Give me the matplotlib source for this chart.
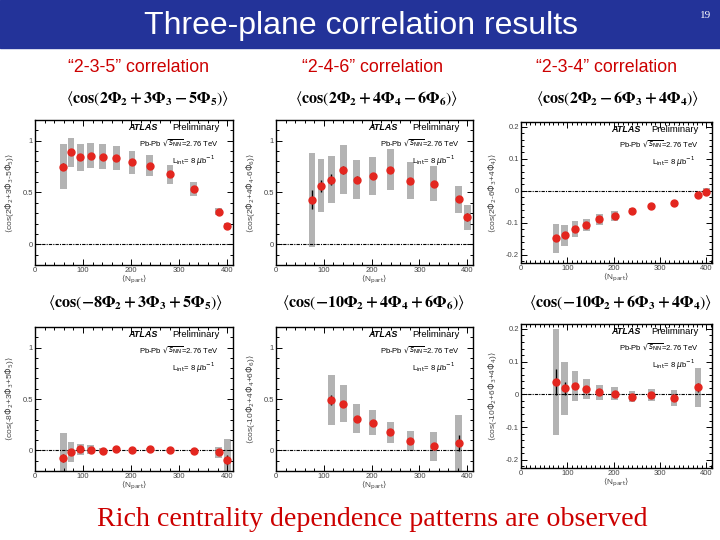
import matplotlib
matplotlib.use("Agg")
import matplotlib.pyplot as plt
from matplotlib.patches import Rectangle
from matplotlib.ticker import MultipleLocator

# ---- data ----
npart_235 = [59, 75, 94, 116, 141, 169, 202, 239, 281, 330, 382, 400]
c235 = [0.75, 0.89, 0.84, 0.855, 0.845, 0.83, 0.79, 0.76, 0.675, 0.535, 0.315, 0.175]
c235_stat = [0.035, 0.02, 0.015, 0.012, 0.01, 0.01, 0.01, 0.01, 0.01, 0.01, 0.01, 0.012]
c235_sys = [0.22, 0.14, 0.13, 0.12, 0.12, 0.115, 0.11, 0.105, 0.095, 0.07, 0.035, 0.03]

npart_246 = [75, 94, 116, 141, 169, 202, 239, 281, 330, 382, 400]
c246 = [0.43, 0.565, 0.625, 0.72, 0.625, 0.66, 0.72, 0.615, 0.585, 0.435, 0.26]
c246_stat = [0.09, 0.06, 0.05, 0.04, 0.03, 0.03, 0.03, 0.02, 0.025, 0.03, 0.04]
c246_sys = [0.455, 0.255, 0.23, 0.235, 0.19, 0.185, 0.2, 0.175, 0.17, 0.13, 0.12]

npart_234 = [75, 94, 116, 141, 169, 202, 239, 281, 330, 382, 400]
c234 = [-0.148, -0.139, -0.118, -0.106, -0.089, -0.079, -0.062, -0.047, -0.037, -0.013, -0.002]
c234_stat = [0.008, 0.006, 0.005, 0.004, 0.004, 0.003, 0.003, 0.003, 0.003, 0.003, 0.004]
c234_sys = [0.045, 0.033, 0.025, 0.018, 0.017, 0.015, 0.009, 0.007, 0.007, 0.008, 0.012]

npart_835 = [59, 75, 94, 116, 141, 169, 202, 239, 281, 330, 382, 400]
c835 = [-0.075, -0.015, 0.01, 0.006, -0.003, 0.013, 0.006, 0.013, 0.0, -0.003, -0.019, -0.09]
c835_stat = [0.04, 0.015, 0.01, 0.01, 0.008, 0.008, 0.008, 0.008, 0.008, 0.008, 0.015, 0.05]
c835_sys = [0.245, 0.095, 0.055, 0.045, 0.025, 0.015, 0.012, 0.012, 0.01, 0.01, 0.05, 0.2]

npart_1046 = [116, 141, 169, 202, 239, 281, 330, 382]
c1046 = [0.49, 0.455, 0.31, 0.27, 0.175, 0.09, 0.04, 0.07]
c1046_stat = [0.05, 0.03, 0.015, 0.015, 0.015, 0.015, 0.02, 0.08]
c1046_sys = [0.24, 0.18, 0.14, 0.12, 0.105, 0.1, 0.14, 0.27]

npart_1064 = [75, 94, 116, 141, 169, 202, 239, 281, 330, 382]
c1064 = [0.038, 0.018, 0.026, 0.016, 0.006, 0.002, -0.007, -0.002, -0.012, 0.021]
c1064_stat = [0.04, 0.02, 0.01, 0.008, 0.006, 0.005, 0.005, 0.005, 0.006, 0.015]
c1064_sys = [0.163, 0.082, 0.046, 0.03, 0.022, 0.02, 0.017, 0.019, 0.025, 0.059]

headers = ["\u201c2-3-5\u201d correlation", "\u201c2-4-6\u201d correlation", "\u201c2-3-4\u201d correlation"]
formulas_top = [
    r"$\left\langle \mathbf{cos}\left(\mathbf{2\Phi_2+3\Phi_3-5\Phi_5}\right)\right\rangle$",
    r"$\left\langle \mathbf{cos}\left(\mathbf{2\Phi_2+4\Phi_4-6\Phi_6}\right)\right\rangle$",
    r"$\left\langle \mathbf{cos}\left(\mathbf{2\Phi_2-6\Phi_3+4\Phi_4}\right)\right\rangle$",
]
formulas_bot = [
    r"$\left\langle \mathbf{cos}\left(\mathbf{-8\Phi_2+3\Phi_3+5\Phi_5}\right)\right\rangle$",
    r"$\left\langle \mathbf{cos}\left(\mathbf{-10\Phi_2+4\Phi_4+6\Phi_6}\right)\right\rangle$",
    r"$\left\langle \mathbf{cos}\left(\mathbf{-10\Phi_2+6\Phi_3+4\Phi_4}\right)\right\rangle$",
]
ylabels = [
    r"$\langle$cos(2$\Phi_2$+3$\Phi_3$-5$\Phi_5$)$\rangle$",
    r"$\langle$cos(2$\Phi_2$+4$\Phi_4$-6$\Phi_6$)$\rangle$",
    r"$\langle$cos(2$\Phi_2$-6$\Phi_3$+4$\Phi_4$)$\rangle$",
    r"$\langle$cos(-8$\Phi_2$+3$\Phi_3$+5$\Phi_5$)$\rangle$",
    r"$\langle$cos(-10$\Phi_2$+4$\Phi_4$+6$\Phi_6$)$\rangle$",
    r"$\langle$cos(-10$\Phi_2$+6$\Phi_3$+4$\Phi_4$)$\rangle$",
]

plt.rcParams['font.family'] = ['Liberation Sans', 'DejaVu Sans']

fig = plt.figure(figsize=(7.2, 5.4), dpi=100)
W, H = 720.0, 540.0


def px_axes(x0, y0, x1, y1):
    return fig.add_axes([x0 / W, 1 - y1 / H, (x1 - x0) / W, (y1 - y0) / H])


# title bar
fig.patches.append(Rectangle((0, 1 - 48 / H), 1, 48 / H, transform=fig.transFigure,
                             color='#233399', zorder=0))
fig.text(361 / W, 1 - 26 / H, "Three-plane correlation results", color='white',
         fontsize=23, ha='center', va='center')
fig.text(706 / W, 1 - 15 / H, "19", color='white', fontsize=8, ha='center', va='center',
         family='Liberation Serif')

for xc, h in zip([138, 372, 606], headers):
    fig.text(xc / W, 1 - 68 / H, h, color='#cc0000', fontsize=12.8, ha='center', va='center')
for xc, f in zip([147, 376, 617], formulas_top):
    fig.text(xc / W, 1 - 99 / H, f, fontsize=11.5, ha='center', va='center', math_fontfamily='stix')
for xc, f in zip([135, 373, 620], formulas_bot):
    fig.text(xc / W, 1 - 302 / H, f, fontsize=11.5, ha='center', va='center', math_fontfamily='stix')

fig.text(372 / W, 1 - 520 / H, "Rich centrality dependence patterns are observed",
         color='#cc0000', fontsize=20.2, ha='center', va='center', family='Liberation Serif')

panels = [
    ((35, 120, 233, 265), npart_235, c235, c235_stat, c235_sys, 'big', -0.096),
    ((276, 120, 473, 265), npart_246, c246, c246_stat, c246_sys, 'big', -0.096),
    ((521, 122, 712, 263), npart_234, c234, c234_stat, c234_sys, 'small', -0.115),
    ((35, 327, 233, 471), npart_835, c835, c835_stat, c835_sys, 'big', -0.096),
    ((276, 327, 473, 471), npart_1046, c1046, c1046_stat, c1046_sys, 'big', -0.096),
    ((521, 324, 712, 468), npart_1064, c1064, c1064_stat, c1064_sys, 'small', -0.115),
]

for i, (box, xs, ys, stat, sys_err, kind, ylx) in enumerate(panels):
    ax = px_axes(*box)
    lows = [v - s for v, s in zip(ys, sys_err)]
    ax.bar(xs, [2 * s for s in sys_err], bottom=lows, width=14, color='#b3b3b3', zorder=1)
    ax.axhline(0, color='black', lw=0.8, ls=(0, (3, 1, 1, 1)), zorder=2)
    ax.errorbar(xs, ys, yerr=stat, fmt='o', color='#e3261f', ecolor='black',
                elinewidth=1.0, capsize=0, markersize=5, zorder=3)
    ax.set_xlim(0, 412)
    ax.set_xticks([0, 100, 200, 300, 400])
    if kind == 'big':
        ax.set_ylim(-0.2, 1.2)
        ax.set_yticks([0, 0.5, 1])
        ax.set_yticklabels(['0', '0.5', '1'])
        ax.xaxis.set_minor_locator(MultipleLocator(20))
        ax.yaxis.set_minor_locator(MultipleLocator(0.1))
    else:
        ax.set_ylim(-0.225, 0.215)
        ax.set_yticks([-0.2, -0.1, 0, 0.1, 0.2])
        ax.set_yticklabels(['-0.2', '-0.1', '0', '0.1', '0.2'])
        ax.xaxis.set_minor_locator(MultipleLocator(10))
        ax.yaxis.set_minor_locator(MultipleLocator(0.02))
    ax.tick_params(which='both', direction='in', top=True, right=True,
                   labelsize=5.5, labelcolor='#444444', width=0.7, pad=1.5)
    ax.tick_params(which='major', length=4)
    ax.tick_params(which='minor', length=2)
    for sp in ax.spines.values():
        sp.set_linewidth(1.0)
    ax.set_ylabel(ylabels[i], fontsize=6, color='#444444')
    ax.yaxis.set_label_coords(ylx, 0.5)
    ax.set_xlabel(r"$\langle$N$_{\mathrm{part}}\rangle$", fontsize=6, color='#444444')
    ax.xaxis.set_label_coords(0.5, -0.055)

    ax.text(0.47, 0.945, "ATLAS", transform=ax.transAxes, fontsize=6.5,
            fontweight='bold', fontstyle='italic', ha='left', va='center')
    ax.text(0.93, 0.945, "Preliminary", transform=ax.transAxes, fontsize=6.8,
            ha='right', va='center')
    ax.text(0.93, 0.84, r"Pb-Pb $\sqrt{s_{\mathrm{NN}}}$=2.76 TeV", transform=ax.transAxes,
            fontsize=5.5, ha='right', va='center')
    ax.text(0.91, 0.72, r"L$_{\mathrm{int}}$= 8 $\mu$b$^{-1}$", transform=ax.transAxes,
            fontsize=5.5, ha='right', va='center')

fig.savefig("out.png", dpi=100)
